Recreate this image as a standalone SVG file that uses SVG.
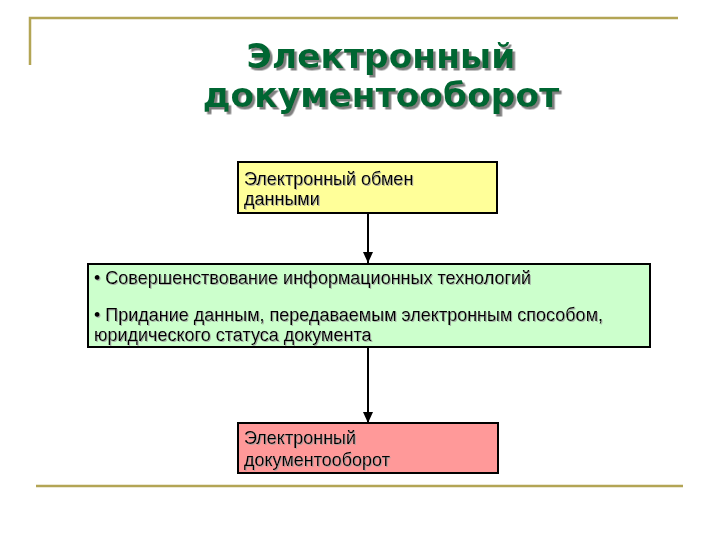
<svg xmlns="http://www.w3.org/2000/svg" width="720" height="540" viewBox="0 0 720 540">
<style>
.frame{stroke:#B3A555;stroke-width:2.5;fill:none}
.box{stroke:#000;stroke-width:2}
.t{font-family:"Liberation Sans",Arial,sans-serif;font-size:18px;fill:#000;filter:url(#sh2)}
.title{font-family:"DejaVu Sans",Verdana,sans-serif;font-size:34.5px;font-weight:bold;text-anchor:middle;fill:#006633;filter:url(#sh1)}
.conn{stroke:#000;stroke-width:2;fill:none}
</style>
<defs>
<filter id="sh1" x="-10%" y="-30%" width="120%" height="160%">
<feDropShadow dx="2.5" dy="2.5" stdDeviation="0.6" flood-color="#808080" flood-opacity="1"/>
</filter>
<filter id="sh2" x="-10%" y="-30%" width="120%" height="160%">
<feDropShadow dx="1" dy="1" stdDeviation="0.4" flood-color="#A0A0A0" flood-opacity="0.8"/>
</filter>
<marker id="arr" viewBox="0 0 11 10" refX="11" refY="5" markerWidth="11" markerHeight="10" orient="auto" markerUnits="userSpaceOnUse">
<path d="M0,0 L11,5 L0,10 Z" fill="#000"/>
</marker>
</defs>
<rect width="720" height="540" fill="#fff"/>
<g id="frame">
<path class="frame" d="M30,65 V18 H678"/>
<path class="frame" d="M36,486 H683"/>
</g>
<g id="title">
<text class="title" x="381" y="68">Электронный</text>
<text class="title" x="381" y="107">документооборот</text>
</g>
<g id="connectors">
<line class="conn" x1="368" y1="213" x2="368" y2="263" marker-end="url(#arr)"/>
<line class="conn" x1="368" y1="347" x2="368" y2="423" marker-end="url(#arr)"/>
</g>
<g id="node1">
<rect class="box" x="238" y="162" width="259" height="51" fill="#FFFF99"/>
<text class="t" x="244" y="185">Электронный обмен</text>
<text class="t" x="244" y="205">данными</text>
</g>
<g id="node2">
<rect class="box" x="88" y="264" width="562" height="83" fill="#CCFFCC"/>
<text class="t" x="94" y="284">• Совершенствование информационных технологий</text>
<text class="t" x="94" y="321">• Придание данным, передаваемым электронным способом,</text>
<text class="t" x="94" y="341">юридического статуса документа</text>
</g>
<g id="node3">
<rect class="box" x="238" y="423" width="260" height="50" fill="#FF9999"/>
<text class="t" x="244" y="444">Электронный</text>
<text class="t" x="244" y="466">документооборот</text>
</g>
</svg>
